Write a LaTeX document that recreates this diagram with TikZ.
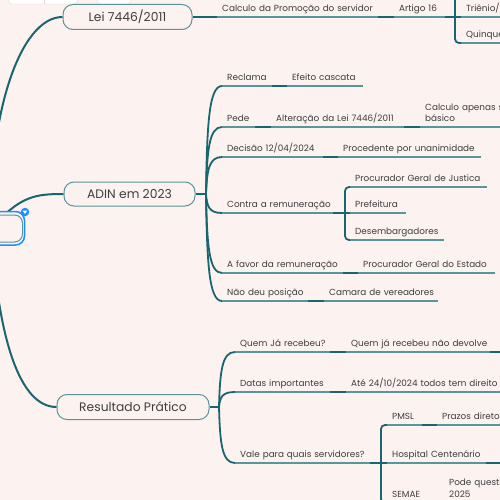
\documentclass[tikz,border=0pt]{standalone}
\usepackage{fontspec}
\setmainfont{Poppins}
\usetikzlibrary{calc}
\definecolor{bgc}{HTML}{FCF2F0}
\definecolor{darkteal}{HTML}{1A6670}
\definecolor{ulteal}{HTML}{5A959B}
\definecolor{txtc}{HTML}{3E3E3E}
\definecolor{selblue}{HTML}{1E8FFF}
\definecolor{tbgray}{HTML}{E2DEDD}
\begin{document}
\begin{tikzpicture}[x=1pt,y=-1pt,
  conn/.style={draw=darkteal, line width=1.8pt},
  bigcurve/.style={draw=darkteal, line width=2pt},
  uline/.style={draw=ulteal, line width=1.1pt},
  topicbase/.style={anchor=south west, inner xsep=5pt, inner ysep=2pt, text height=7pt, text depth=3pt, align=left, text=txtc, font=\fontsize{8.85}{11}\selectfont},
  topic/.style={topicbase, execute at begin node={\hbox\bgroup}, execute at end node={\egroup}},
  mainnode/.style={draw=ulteal, line width=1pt, fill=bgc, rounded corners=10pt, text=txtc, font=\fontsize{12.3}{14}\selectfont, inner sep=0pt},
  rootbox/.style={draw=ulteal, line width=1pt, fill=bgc, rounded corners=8pt, inner sep=0pt},
  selbox/.style={draw=selblue, line width=1.5pt, fill=bgc, rounded corners=9pt, inner sep=0pt},
  toolbar/.style={draw=tbgray, fill=white, rounded corners=4pt},
]
\fill[bgc] (0,0) rectangle (500,500);
\useasboundingbox (0,0) rectangle (500,500);
\clip (0,0) rectangle (500,500);

% toolbar fragments
\draw[toolbar] (8,-10) rectangle (78,4);
\draw[tbgray] (44,-10) -- (44,4);
\draw[toolbar] (97,-10) rectangle (131,4);

% root position (mostly off-image)
\coordinate (rootC) at (-8.75,228.5);

% main nodes
\node[mainnode, minimum width=129pt, minimum height=25pt] (lei) at (127.5,17) {Lei 7446/2011};
\node[mainnode, minimum width=131pt, minimum height=24pt] (adin) at (129.5,194) {ADIN em 2023};
\node[mainnode, minimum width=152pt, minimum height=25pt] (res) at (133,407) {Resultado Prático};

% big curves from root
\draw[bigcurve] (rootC) .. controls (-12,115) and (20,17) .. (lei.west);
\draw[bigcurve] (rootC) .. controls (20,196) and (35,194) .. (adin.west);
\draw[bigcurve] (rootC) .. controls (-2,340) and (20,407) .. (res.west);

% root node with selection
\node[selbox, minimum width=64.5pt, minimum height=33.5pt] (rootsel) at (-7.75,228.25) {};
\node[rootbox, minimum width=62.5pt, minimum height=27pt] (root) at (rootC) {};
\node[circle, fill=selblue, minimum size=8.5pt, inner sep=0pt] (collapse) at (25,212) {};
\fill[white] ($(collapse.center)+(-2.3,-1.3)$) -- ($(collapse.center)+(2.3,-1.3)$) -- ($(collapse.center)+(0,1.9)$) -- cycle;

% Lei branch
\node[topic, text width=151pt] (calc) at (217,17) {Calculo da Promoção do servidor};
\node[topic, text width=41pt] (artigo) at (394,17) {Artigo 16};
\node[topic, text width=80pt] (trienio) at (461,17) {Triênio/};
\node[topic, text width=80pt] (quinque) at (461,43) {Quinque};

% ADIN branch
\node[topic, text width=40pt] (reclama) at (222,86) {Reclama};
\node[topic, text width=66pt] (efeito) at (287,86) {Efeito cascata};
\node[topic, text width=23pt] (pede) at (222,127) {Pede};
\node[topic, text width=123pt] (alter) at (271,127) {Alteração da Lei 7446/2011};
\node[topicbase, text width=90pt, text depth=14pt] (calcap) at (420,127) {Calculo apenas s\\básico};
\node[topic, text width=91pt] (decisao) at (222,157) {Decisão 12/04/2024};
\node[topic, text width=133pt] (proced) at (338,157) {Procedente por unanimidade};
\node[topic, text width=101pt] (contra) at (222,213) {Contra a remuneração};
\node[topic, text width=127pt] (pgj) at (350,187) {Procurador Geral de Justica};
\node[topic, text width=46pt] (pref) at (350,213) {Prefeitura};
\node[topic, text width=84pt] (desemb) at (350,240) {Desembargadores};
\node[topic, text width=111pt] (afavor) at (222,273) {A favor da remuneração};
\node[topic, text width=127pt] (pge) at (358,273) {Procurador Geral do Estado};
\node[topic, text width=76pt] (naodeu) at (222,301) {Não deu posição};
\node[topic, text width=104pt] (camara) at (324,301) {Camara de vereadores};

% Resultado branch
\node[topic, text width=85pt] (quem) at (235,352) {Quem Já recebeu?};
\node[topic, text width=134pt] (quemja) at (346,352) {Quem já recebeu não devolve};
\node[topic, text width=85pt] (datas) at (235,392) {Datas importantes};
\node[topic, text width=200pt] (ate) at (346,392) {Até 24/10/2024 todos tem direito};
\node[topic, text width=125pt] (vale) at (235,463) {Vale para quais servidores?};
\node[topic, text width=25pt] (pmsl) at (387,425) {PMSL};
\node[topic, text width=100pt] (prazos) at (437,425) {Prazos direto};
\node[topic, text width=89pt] (hosp) at (387,463) {Hospital Centenário};
\node[topic, text width=31pt] (semae) at (387,503) {SEMAE};
\node[topicbase, text width=100pt, text depth=15pt, font=\fontsize{8.85}{12}\selectfont] (pode) at (444,503) {Pode questi\\2025};

% underlines
\foreach \n in {calc,artigo,trienio,quinque,reclama,efeito,pede,alter,calcap,decisao,proced,contra,pgj,pref,desemb,afavor,pge,naodeu,camara,quem,quemja,datas,ate,vale,pmsl,prazos,hosp,semae,pode}
  \draw[uline] (\n.south west) -- (\n.south east);

% connectors: Lei
\draw[conn] (lei.east) -- (calc.south west);
\draw[conn] (calc.south east) -- (artigo.south west);
\draw[conn] (artigo.south east) -- (trienio.south west);
\coordinate (artUp) at (455,-20);
\draw[conn, rounded corners=4pt] (artUp) |- (quinque.south west);

% connectors: ADIN
\coordinate (adinJ) at (206,194);
\draw[conn] (adin.east) -- (adinJ);
\draw[conn] (adinJ) .. controls (207,123.8) and (209,86) .. (reclama.south west);
\draw[conn] (adinJ) .. controls (207,150.5) and (209,127) .. (pede.south west);
\draw[conn] (adinJ) .. controls (207,170) and (209,157) .. (decisao.south west);
\draw[conn] (adinJ) .. controls (207,206.4) and (209,213) .. (contra.south west);
\draw[conn] (adinJ) .. controls (207,245.4) and (209,273) .. (afavor.south west);
\draw[conn] (adinJ) .. controls (207,263.6) and (209,301) .. (naodeu.south west);
\draw[conn] (reclama.south east) -- (efeito.south west);
\draw[conn] (pede.south east) -- (alter.south west);
\draw[conn] (alter.south east) -- (calcap.south west);
\draw[conn] (decisao.south east) -- (proced.south west);
\draw[conn] (contra.south east) -- (pref.south west);
\coordinate (contraJ) at (345,213);
\draw[conn, rounded corners=4pt] (pgj.south west) -| (contraJ) |- (desemb.south west);
\draw[conn] (afavor.south east) -- (pge.south west);
\draw[conn] (naodeu.south east) -- (camara.south west);

% connectors: Resultado
\coordinate (resJ) at (219,407);
\draw[conn] (res.east) -- (resJ);
\draw[conn] (resJ) .. controls (220,371.3) and (222,352) .. (quem.south west);
\draw[conn] (resJ) .. controls (220,397.3) and (222,392) .. (datas.south west);
\draw[conn] (resJ) .. controls (220,443.4) and (222,463) .. (vale.south west);
\draw[conn] (quem.south east) -- (quemja.south west);
\coordinate (quemOff) at (520,352);
\draw[conn] (quemja.south east) -- (quemOff);
\draw[conn] (datas.south east) -- (ate.south west);
\draw[conn] (vale.south east) -- (hosp.south west);
\coordinate (valeJ) at (381,463);
\draw[conn, rounded corners=4pt] (pmsl.south west) -| (valeJ) |- (semae.south west);
\draw[conn] (pmsl.south east) -- (prazos.south west);
\coordinate (hospOff) at (520,463);
\draw[conn] (hosp.south east) -- (hospOff);
\draw[conn] (semae.south east) -- (pode.south west);
\end{tikzpicture}
\end{document}
